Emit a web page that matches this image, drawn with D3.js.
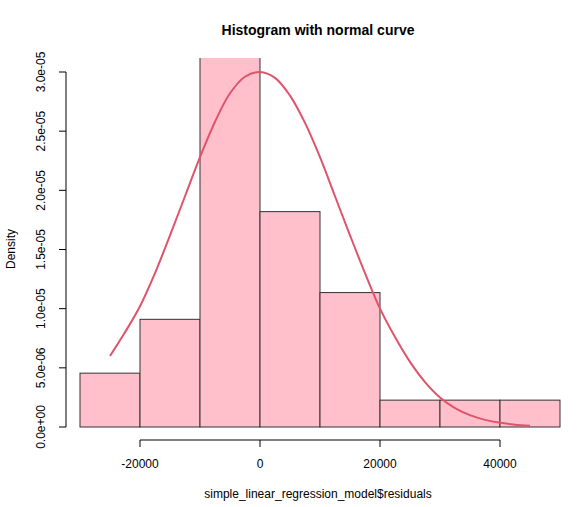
<!DOCTYPE html>
<html><head><meta charset="utf-8">
<script src="https://cdn.jsdelivr.net/npm/d3@7"></script>
<style>body{margin:0;background:#fff}text{font-family:"Liberation Sans",Arial,sans-serif}</style>
</head><body><div id="chart"></div>
<script>
// ---------- DATA ----------
const binEdges = [-30000, -20000, -10000, 0, 10000, 20000, 30000, 40000, 50000];
const density = [4.55e-6, 9.1e-6, 4.77e-5, 1.82e-5, 1.136e-5, 2.27e-6, 2.27e-6, 2.27e-6];
const curveX = [-25000, -22500, -20000, -17500, -15000, -12500, -10000, -7500, -5000, -2500, 0,
  2500, 5000, 7500, 10000, 12500, 15000, 17500, 20000, 22500, 25000, 27500, 30000, 32500, 35000, 37500, 40000, 42500, 45000];
const curveY = [6.0e-6, 8.0e-6, 1.02e-5, 1.3e-5, 1.62e-5, 1.95e-5, 2.28e-5, 2.58e-5, 2.82e-5, 2.96e-5, 3.0e-5,
  2.95e-5, 2.8e-5, 2.57e-5, 2.28e-5, 1.95e-5, 1.62e-5, 1.3e-5, 1.0e-5, 7.6e-6, 5.5e-6, 3.8e-6, 2.5e-6, 1.6e-6, 1.0e-6, 6e-7, 3.5e-7, 2e-7, 1e-7];
const xTicks = [-20000, 0, 20000, 40000];
const yTicks = [0, 5e-6, 1e-5, 1.5e-5, 2e-5, 2.5e-5, 3e-5];
const yLabels = ["0.0e+00", "5.0e-06", "1.0e-05", "1.5e-05", "2.0e-05", "2.5e-05", "3.0e-05"];

const svg = d3.select("#chart").append("svg").attr("width", 577).attr("height", 507);
const x = d3.scaleLinear().domain([0, 20000]).range([260, 380]);
const y = d3.scaleLinear().domain([0, 3e-5]).range([427, 72]);
const plotTop = 58, plotLeft = 66, plotRight = 570;

svg.append("clipPath").attr("id", "clip").append("rect")
	.attr("x", plotLeft).attr("y", plotTop).attr("width", plotRight - plotLeft).attr("height", 440 - plotTop);

const g = svg.append("g").attr("clip-path", "url(#clip)");
g.selectAll("rect.bar").data(density).enter().append("rect")
	.attr("x", (d, i) => x(binEdges[i]))
	.attr("y", d => y(d))
	.attr("width", (d, i) => x(binEdges[i + 1]) - x(binEdges[i]))
	.attr("height", d => y(0) - y(d))
	.attr("fill", "#FFC0CB").attr("stroke", "#333").attr("stroke-width", 1);

g.append("path")
	.datum(curveX.map((v, i) => [v, curveY[i]]))
	.attr("d", d3.line().x(d => x(d[0])).y(d => y(d[1])).curve(d3.curveCatmullRom))
	.attr("fill", "none").attr("stroke", "#DF536B").attr("stroke-width", 2);

// x axis
const xa = svg.append("g").attr("stroke", "#000");
xa.append("line").attr("x1", x(-20000)).attr("x2", x(40000)).attr("y1", 440).attr("y2", 440);
xTicks.forEach(t => {
	xa.append("line").attr("x1", x(t)).attr("x2", x(t)).attr("y1", 440).attr("y2", 447);
	svg.append("text").attr("x", x(t)).attr("y", 468).attr("text-anchor", "middle")
		.attr("font-size", 12).text(t);
});
// y axis
const ya = svg.append("g").attr("stroke", "#000");
ya.append("line").attr("x1", plotLeft).attr("x2", plotLeft).attr("y1", y(0)).attr("y2", y(3e-5));
yTicks.forEach((t, i) => {
	ya.append("line").attr("x1", plotLeft - 7).attr("x2", plotLeft).attr("y1", y(t)).attr("y2", y(t));
	svg.append("text").attr("transform", `translate(45,${y(t)}) rotate(-90)`)
		.attr("text-anchor", "middle").attr("font-size", 12).text(yLabels[i]);
});

svg.append("text").attr("x", 318).attr("y", 35).attr("text-anchor", "middle")
	.attr("font-size", 14).attr("font-weight", "bold").text("Histogram with normal curve");
svg.append("text").attr("x", 318).attr("y", 498).attr("text-anchor", "middle")
	.attr("font-size", 12).text("simple_linear_regression_model$residuals");
svg.append("text").attr("transform", "translate(15,249) rotate(-90)")
	.attr("text-anchor", "middle").attr("font-size", 12).text("Density");
</script></body></html>
